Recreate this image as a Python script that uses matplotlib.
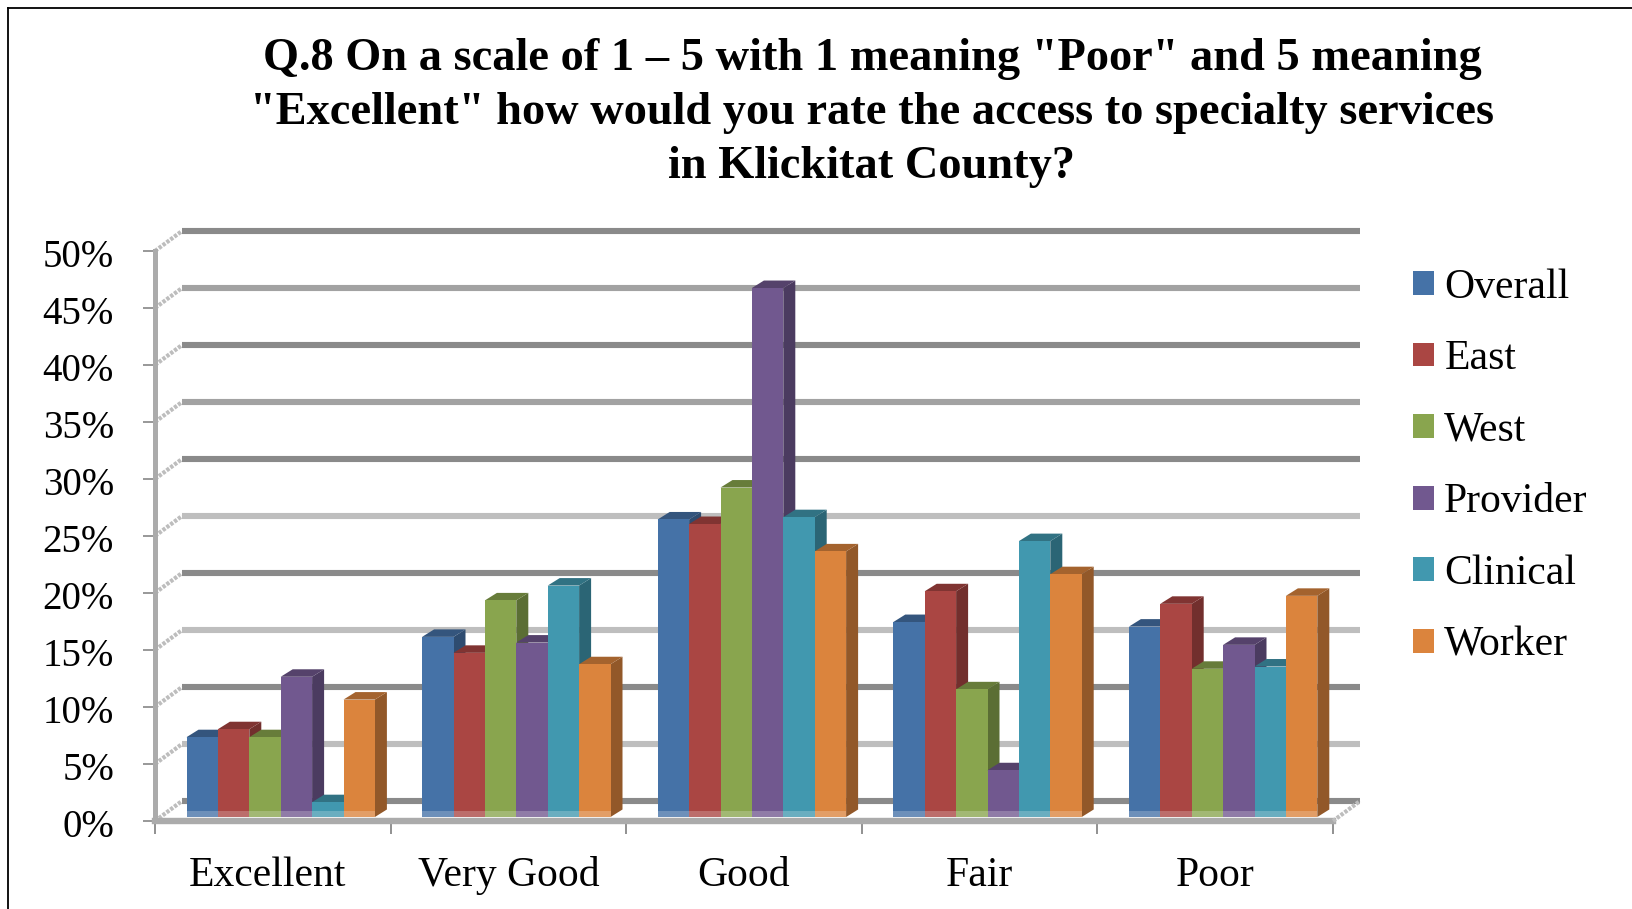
import numpy as np
from matplotlib import pyplot as plt
from matplotlib.patches import Polygon, Rectangle
from matplotlib.transforms import ScaledTranslation

plt.rcParams['font.family'] = ['Liberation Serif', 'DejaVu Serif']

categories = ['Excellent', 'Very Good', 'Good', 'Fair', 'Poor']
series_names = ['Overall', 'East', 'West', 'Provider', 'Clinical', 'Worker']
overall = [7.0, 15.8, 26.1, 17.1, 16.7]
east = [7.7, 14.4, 25.7, 19.8, 18.7]
west = [7.0, 19.0, 28.9, 11.2, 13.0]
provider = [12.3, 15.3, 46.4, 4.1, 15.1]
clinical = [1.3, 20.3, 26.3, 24.2, 13.2]
worker = [10.3, 13.4, 23.3, 21.3, 19.4]
series = [overall, east, west, provider, clinical, worker]
y_ticks = [0, 5, 10, 15, 20, 25, 30, 35, 40, 45, 50]
y_labels = ['0%', '5%', '10%', '15%', '20%', '25%', '30%', '35%', '40%', '45%', '50%']

front = ['#4572A7', '#AA4643', '#89A54E', '#71588F', '#4198AF', '#DB843D']
side = ['#2E4C70', '#722F2D', '#5B6E34', '#4B3B60', '#2B6575', '#925829']
top = ['#34557D', '#803432', '#677C3A', '#55426B', '#317283', '#A4632E']
grid_shades = ['#8A8A8A', '#BEBEBE', '#8A8A8A', '#BEBEBE', '#8A8A8A', '#BEBEBE',
               '#8A8A8A', '#A2A2A2', '#8A8A8A', '#A2A2A2', '#8A8A8A']

W, H = 1632, 909
fig = plt.figure(figsize=(W / 100, H / 100), dpi=100)
fig.patch.set_facecolor('white')

# axes placed in pixels of the front plane
left, right, bottom, upper = 155, 1333, 821, 251
ax = fig.add_axes([left / W, 1 - bottom / H, (right - left) / W, (bottom - upper) / H])
ax.set_xlim(0, 5)
ax.set_ylim(0, 50)
ax.patch.set_visible(False)
for s in ax.spines.values():
    s.set_visible(False)

px_x = 5 / (right - left)
px_y = 50 / (bottom - upper)
wall_dx, wall_dy = 27 * px_x, 20 * px_y
bar_dx, bar_dy = 12 * px_x, 7.5 * px_y
base = 4 * px_y
bar_w = 31.4 * px_x
start = 31.5 * px_x

# back wall grid
for t, shade in zip(y_ticks, grid_shades):
    ax.plot([wall_dx, 5 + wall_dx], [t + wall_dy, t + wall_dy], color=shade, lw=4.4,
            solid_capstyle='butt', clip_on=False, zorder=1)
    ax.plot([0, wall_dx], [t, t + wall_dy], color='#BDBDBD', lw=3, ls=(0, (0.8, 0.35)),
            clip_on=False, zorder=1)

# floor and left wall edges
ax.plot([0, 0], [0, 50], color='#ABABAB', lw=3.6, clip_on=False, zorder=2)
ax.plot([0, 5], [0, 0], color='#ABABAB', lw=4.6, clip_on=False, zorder=2)
ax.plot([5, 5 + wall_dx], [0, wall_dy], color='#BDBDBD', lw=3, ls=(0, (0.8, 0.35)),
        clip_on=False, zorder=2)

# bars
handles = []
z = 3
for g in range(len(categories)):
    for k, vals in enumerate(series):
        x0 = g + start + k * bar_w
        v = vals[g]
        y1 = base + v
        ax.add_patch(Polygon([(x0 + bar_w, base), (x0 + bar_w + bar_dx, base + bar_dy),
                              (x0 + bar_w + bar_dx, y1 + bar_dy), (x0 + bar_w, y1)],
                             fc=side[k], ec='none', clip_on=False, zorder=z))
        ax.add_patch(Polygon([(x0, y1), (x0 + bar_dx, y1 + bar_dy),
                              (x0 + bar_w + bar_dx, y1 + bar_dy), (x0 + bar_w, y1)],
                             fc=top[k], ec='none', clip_on=False, zorder=z))
        b = ax.bar(x0, v, bar_w, bottom=base, align='edge', color=front[k], clip_on=False,
                   zorder=z + 0.5)
        if g == 0:
            handles.append(b[0])
        z += 1
    ax.add_patch(Rectangle((g + start, base), 6 * bar_w, 6 * px_y, fc='white', ec='none',
                           alpha=0.22, clip_on=False, zorder=z))

ax.set_yticks(y_ticks)
ax.set_yticklabels(y_labels)
ax.set_xticks(range(6))
ax.set_xticklabels([])
ax.set_xticks(np.arange(5) + 0.5, labels=categories, minor=True)
ax.tick_params(axis='y', length=8.5, width=1.3, color='#909090', pad=21, labelsize=28)
ax.tick_params(axis='x', which='major', length=9, width=1.4, color='#909090')
ax.tick_params(axis='x', which='minor', length=0, pad=25.5, labelsize=30)

# Excellent sits a little left of its slot in the original
lab = ax.get_xticklabels(minor=True)[0]
lab.set_transform(lab.get_transform() + ScaledTranslation(-5 / 100, 0, fig.dpi_scale_trans))
for lab in ax.get_yticklabels():
    lab.set_transform(lab.get_transform() + ScaledTranslation(0, -2 / 100, fig.dpi_scale_trans))

ax.legend(handles, series_names, loc='upper left', bbox_to_anchor=(1258 / 1178, 0.97),
          frameon=False, fontsize=30, labelspacing=0.795, handlelength=0.5, handleheight=0.5,
          handletextpad=0.25, borderpad=0, borderaxespad=0)

fig.text(872 / W, 1 - 113 / H,
         'Q.8 On a scale of 1 \u2013 5 with 1 meaning "Poor" and 5 meaning\n'
         '"Excellent" how would you rate the access to specialty services\n'
         'in Klickitat County?',
         ha='center', va='center', fontsize=33.4, fontweight='bold', linespacing=1.37)

# outer frame of the pasted chart
fig.add_artist(plt.Line2D([8 / W, 8 / W], [0, 1 - 8 / H], color='black', lw=1.3))
fig.add_artist(plt.Line2D([8 / W, 1], [1 - 8 / H, 1 - 8 / H], color='black', lw=1.3))

fig.savefig('out.png', dpi=100)
